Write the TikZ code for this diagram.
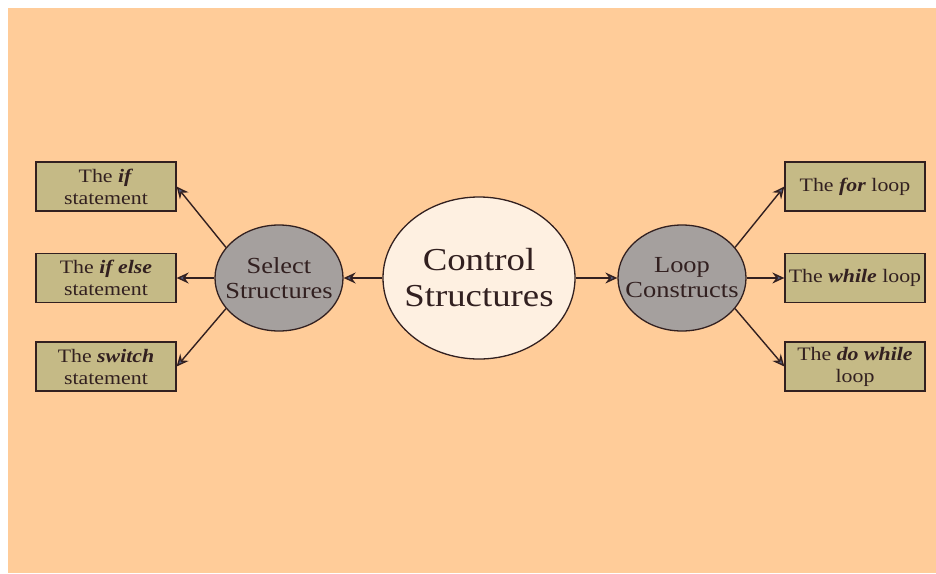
\documentclass[tikz,border=0pt]{standalone}
\usepackage{fontspec}
\setmainfont[FakeStretch=1.15]{Liberation Serif}
\usepackage{tikz}
\usetikzlibrary{arrows.meta,positioning,shapes.geometric}
\definecolor{peach}{RGB}{255,204,153}
\definecolor{khaki}{RGB}{197,186,134}
\definecolor{hubgray}{RGB}{165,160,158}
\definecolor{cream}{RGB}{254,240,225}
\definecolor{edgecol}{RGB}{50,32,32}
\definecolor{tipblue}{RGB}{85,95,130}
\tikzset{
    line/.style   = {-{Stealth[length=12pt, width=11pt, inset=4pt, fill=tipblue]},
            line width=1.4pt, draw=edgecol},
    block/.style  = {draw=edgecol, line width=1.3pt, fill=khaki,
            minimum width=140pt, minimum height=49pt, inner sep=1pt,
            align=center, text=edgecol, font=\fontsize{19}{22}\selectfont},
    hub/.style    = {ellipse, draw=edgecol, line width=1.3pt, fill=hubgray,
            minimum width=128pt, minimum height=106pt, inner sep=0pt},
    core/.style   = {ellipse, draw=edgecol, line width=1.3pt, fill=cream,
            minimum width=192pt, minimum height=162pt, inner sep=0pt},
    hubtext/.style  = {align=center, inner sep=0pt, text=edgecol,
            font=\fontsize{23}{25}\selectfont},
    coretext/.style = {align=center, inner sep=0pt, text=edgecol,
            font=\fontsize{32}{36}\selectfont},
}
\newcommand{\kw}[1]{\textbf{\textit{#1}}}

\begin{document}
\begin{tikzpicture}[x=1pt, y=-1pt]
    % Background
    \useasboundingbox (0,0) rectangle (936,573);
    \fill[white] (0,0) rectangle (936,573);
    \fill[peach] (8,8) rectangle (936,573);
    % Nodes
    \node[core] (ctrl) at (479,278) {};
    \node[coretext] (ctrltext) at (ctrl) {Control\\Structures};
    \node[hub] (sel) at (279,278) {};
    \node[hubtext] (seltext) at (sel) {Select\\Structures};
    \node[hub] (loop) at (682,278) {};
    \node[hubtext] (looptext) at (loop) {Loop\\Constructs};
    \node[block] (if)      at (106,186.5) {The \kw{if}\\statement};
    \node[block] (ifelse)  at (106,278) {The \kw{if else}\\statement};
    \node[block] (switch)  at (106,366.5) {The \kw{switch}\\statement};
    \node[block] (for)     at (855,186.5) {The \kw{for} loop};
    \node[block] (while)   at (855,278) {The \kw{while} loop};
    \node[block] (dowhile) at (855,366.5) {The \kw{do while}\\loop};
    % Arrows
    \draw[line] (ctrl.west) -- (sel.east);
    \draw[line] (ctrl.east) -- (loop.west);
    \draw[line] (sel.150) -- (if.east);
    \draw[line] (sel.west) -- (ifelse.east);
    \draw[line] (sel.210) -- (switch.east);
    \draw[line] (loop.30) -- (for.west);
    \draw[line] (loop.east) -- (while.west);
    \draw[line] (loop.-30) -- (dowhile.west);
\end{tikzpicture}
\end{document}
